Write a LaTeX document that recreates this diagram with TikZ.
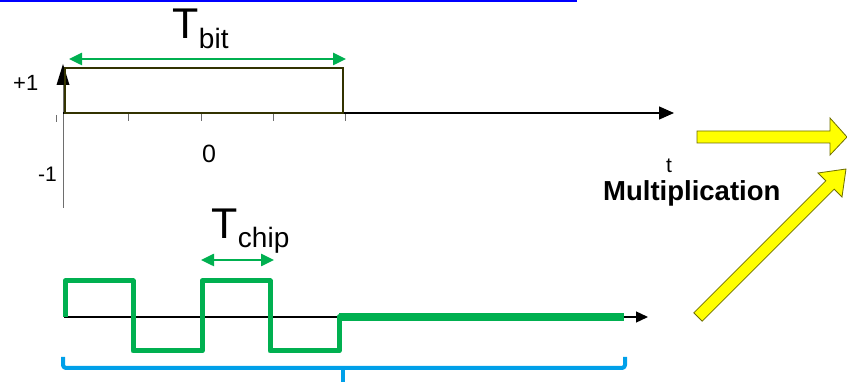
\documentclass[tikz,border=0pt]{standalone}
\usepackage{fontspec}
\setmainfont{Liberation Sans}
\usetikzlibrary{arrows.meta}
\definecolor{grncol}{RGB}{0,176,80}
\definecolor{rectcol}{RGB}{51,51,0}
\definecolor{bracecol}{RGB}{0,160,233}
\definecolor{ylwcol}{RGB}{255,255,0}
\definecolor{ylwedge}{RGB}{110,110,0}
\definecolor{axgray}{RGB}{110,110,110}
\begin{document}
\begin{tikzpicture}[x=1pt,y=-1pt,
  lbl/.style={inner sep=0pt, anchor=base west},
  axis/.style={black, line width=1.3pt, -{Triangle[length=15pt,width=13pt]}},
  grnarrow/.style={grncol, line width=2.5pt, {Triangle[length=13pt,width=12pt]}-{Triangle[length=13pt,width=12pt]}},
  tickm/.style={axgray, line width=0.8pt},
  wave/.style={grncol, line width=5pt, line join=round},
  yarrow/.style={fill=ylwcol, draw=ylwedge, line width=0.8pt, line join=miter}]
\useasboundingbox (0,0) rectangle (847,382);
% top blue line
\coordinate (bl0) at (0,1.2);
\coordinate (bl1) at (577,1.2);
\draw[blue, line width=1.6pt] (bl0) -- (bl1);

% upper axes
\coordinate (yb) at (63,208);
\coordinate (yt) at (63,64);
\coordinate (x0) at (63,113);
\coordinate (x1) at (674,113);
\draw[axgray, line width=1pt] (yb) -- (63,85);
\draw[axis] (x0) -- (x1);
\fill[black] (yt) -- (56.5,85) -- (69.5,85) -- cycle;
% ticks
\foreach \tx in {128,201,273,345} \draw[tickm] (\tx,114) -- (\tx,121);
\draw[tickm] (56,115) -- (56,122);
% rectangle (bit)
\draw[rectcol, line width=2pt] (64.5,68) rectangle (343,113);
% Tbit arrow
\coordinate (ba0) at (69,59);
\coordinate (ba1) at (346,59);
\draw[grnarrow] (ba0) -- (ba1);
\node[lbl] (tbit) at (172,39) {\fontsize{43}{43}\selectfont T\kern0.5pt\raisebox{-10pt}{\fontsize{28}{28}\selectfont bit}};
% labels
\node[lbl] (p1) at (13,91) {\fontsize{22}{22}\selectfont +1};
\node[lbl] (m1) at (38,182) {\fontsize{21}{21}\selectfont -1};
\node[lbl] (z0) at (202,163) {\fontsize{25}{25}\selectfont 0};
\node[lbl] (tt) at (666,173) {\fontsize{21}{21}\selectfont t};
\node[lbl] (mult) at (603,201) {\fontsize{27.5}{27.5}\selectfont\bfseries Multiplication};

% lower axis
\coordinate (lx0) at (64,317);
\coordinate (lx1) at (648,317);
\draw[black, line width=1.3pt, -{Triangle[length=12pt,width=11pt]}] (lx0) -- (lx1);
% chip waveform
\draw[wave] (65,317) -- (65,281) -- (133,281) -- (133,351) -- (202,351) -- (202,281)
  -- (270,281) -- (270,351) -- (339,351) -- (339,317) -- (342,317);
\draw[grncol, line width=8pt] (339,317) -- (624,317);
% Tchip
\coordinate (ca0) at (201,260);
\coordinate (ca1) at (274,260);
\draw[grnarrow] (ca0) -- (ca1);
\node[lbl] (tchip) at (211,239) {\fontsize{43}{43}\selectfont T\kern0.5pt\raisebox{-9pt}{\fontsize{28}{28}\selectfont chip}};

% brace
\coordinate (brL) at (63,357);
\coordinate (brR) at (625,357);
\coordinate (brM) at (343,367);
\coordinate (brB) at (343,382);
\draw[bracecol, line width=4pt, line join=round, rounded corners=3pt]
  (brL) -- (63,368) -- (625,368) -- (brR);
\draw[bracecol, line width=4pt] (brM) -- (brB);

% yellow arrows
\draw[yarrow] (697,131) -- (830,131) -- (830,118) -- (847,137) -- (830,155) -- (830,143) -- (697,143) -- cycle;
\draw[yarrow] (693.8,312.8) -- (825.8,180.8) -- (818,173) -- (846,169) -- (842,197) -- (834.2,189.2) -- (702.2,321.2) -- cycle;
\end{tikzpicture}
\end{document}
